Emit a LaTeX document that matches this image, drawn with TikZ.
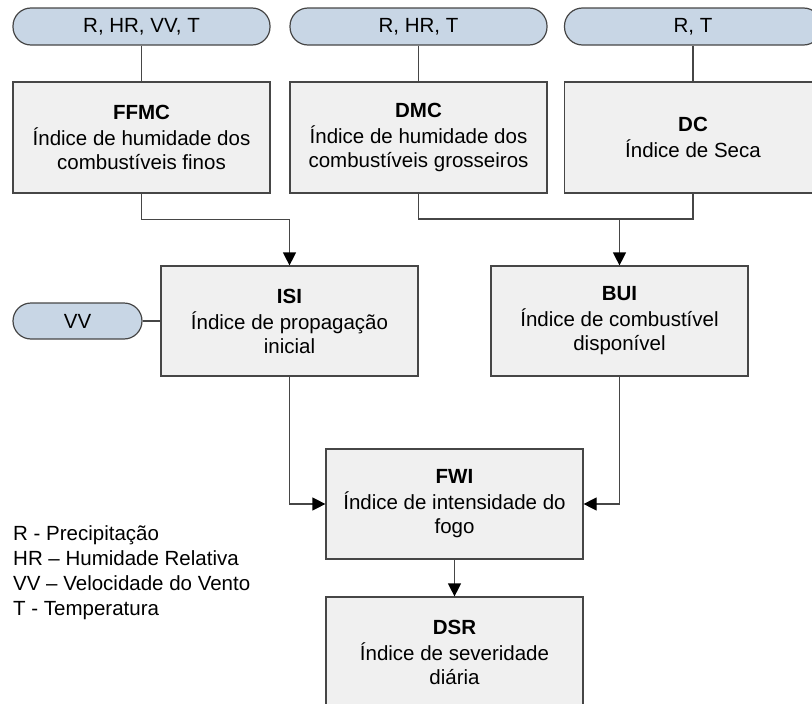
\documentclass[tikz,border=0pt]{standalone}
\usepackage{fontspec}
\setmainfont{Liberation Sans}
\usetikzlibrary{arrows.meta}
\definecolor{pillfill}{RGB}{200,214,229}
\definecolor{boxfill}{RGB}{240,240,240}
\definecolor{linec}{RGB}{70,70,70}
\begin{document}
\begin{tikzpicture}[x=1pt,y=-1pt,
  txt/.style={font=\fontsize{20.5}{24}\selectfont},
  pill/.style={txt,draw=linec,line width=1.2pt,fill=pillfill,rounded corners=18pt,minimum width=257pt,minimum height=37pt,inner sep=0pt},
  smallpill/.style={pill,minimum width=129pt,minimum height=36pt},
  idxbox/.style={txt,draw=linec,line width=1.2pt,fill=boxfill,minimum width=257pt,minimum height=110pt,inner sep=0pt,align=center},
  conn/.style={draw=linec,line width=1.2pt},
  arr/.style={conn,-{Triangle[length=13pt,width=13pt,fill=black,color=black]}},
  legend/.style={txt,anchor=base west,inner sep=0pt}]
\useasboundingbox (0,0) rectangle (812,704);
% inputs
\node[pill] (p1) at (141.5,26.5) {R, HR, VV, T};
\node[pill] (p2) at (418.5,26.5) {R, HR, T};
\node[pill] (p3) at (693,26.5) {R, T};
% first row
\node[idxbox,minimum height=111pt] (ffmc) at (141.5,137.5) {\textbf{FFMC}\\[2pt]Índice de humidade dos\\combustíveis finos};
\node[idxbox,minimum height=111pt] (dmc) at (418.5,137.5) {\textbf{DMC}\\[2pt]Índice de humidade dos\\combustíveis grosseiros};
\node[idxbox,minimum height=111pt] (dc) at (693,137.5) {\textbf{DC}\\[2pt]Índice de Seca};
% second row
\node[idxbox] (isi) at (289.5,321) {\textbf{ISI}\\[2pt]Índice de propagação\\inicial};
\node[smallpill] (vv) at (77.5,321) {VV};
\node[idxbox] (bui) at (619.5,321) {\textbf{BUI}\\[2pt]Índice de combustível\\disponível};
% third/fourth
\node[idxbox] (fwi) at (454.5,504) {\textbf{FWI}\\[2pt]Índice de intensidade do\\fogo};
\node[idxbox] (dsr) at (454.5,652) {\textbf{DSR}\\[2pt]Índice de severidade\\diária};
% legend
\node[legend] (l1) at (13,540.5) {R - Precipitação};
\node[legend] (l2) at (13,565.5) {HR – Humidade Relativa};
\node[legend] (l3) at (13,590.5) {VV – Velocidade do Vento};
\node[legend] (l4) at (13,615.5) {T - Temperatura};
% connectors
\draw[conn] (p1.south) -- (ffmc.north);
\draw[conn] (p2.south) -- (dmc.north);
\draw[conn] (p3.south) -- (dc.north);
\draw[arr] (ffmc.south) -- ++(0,26) -| (isi.north);
\coordinate (j1) at (bui.north |- 0,219);
\draw[conn] (dmc.south) |- (j1);
\draw[conn] (dc.south) |- (j1);
\draw[arr] (j1) -- (bui.north);
\draw[conn] (vv.east) -- (isi.west);
\draw[arr] (isi.south) |- (fwi.west);
\draw[arr] (bui.south) |- (fwi.east);
\draw[arr] (fwi.south) -- (dsr.north);
\end{tikzpicture}
\end{document}
